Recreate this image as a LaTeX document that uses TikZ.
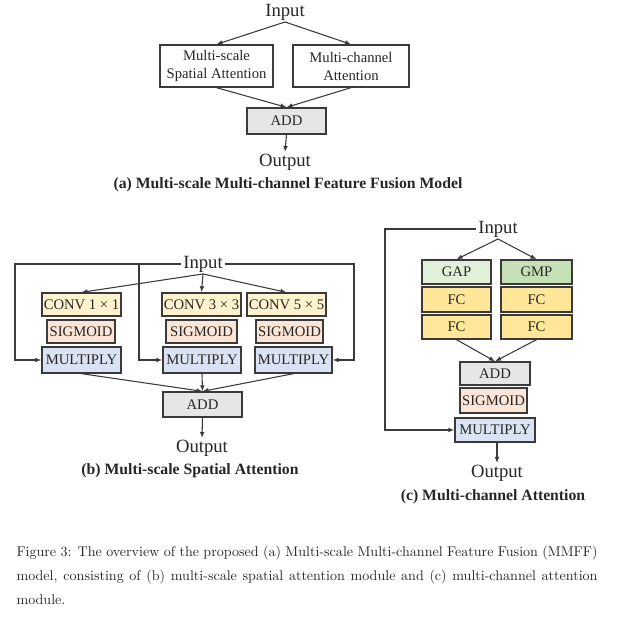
\documentclass[tikz,border=0pt]{standalone}
\usepackage{fontspec}
\newfontfamily\timesfont{Liberation Serif}
\usepackage{tikz}
\usetikzlibrary{arrows.meta,positioning,calc}

\definecolor{linegray}{HTML}{3A3A3A}
\definecolor{textgray}{HTML}{262626}
\definecolor{convfill}{HTML}{FFF2CC}
\definecolor{sigfill}{HTML}{FBE5D6}
\definecolor{mulfill}{HTML}{DAE3F3}
\definecolor{addfill}{HTML}{E7E6E6}
\definecolor{gapfill}{HTML}{E2F0D9}
\definecolor{gmpfill}{HTML}{C5E0B4}
\definecolor{fcfill}{HTML}{FFE699}

\begin{document}
\begin{tikzpicture}[x=0.75pt, y=-0.75pt,
    ->, > = {Latex[length=4.5pt,width=3.5pt]}, color=linegray, line width=0.8pt,
    every node/.style={font=\timesfont\fontsize{11}{13.5}\selectfont, align=center, text=textgray},
    blk/.style={draw=linegray, line width=1pt, inner sep=0pt},
    boxsz/.style 2 args={minimum width={#1*0.75pt}, minimum height={#2*0.75pt}},
    io/.style={font=\timesfont\fontsize{14}{16}\selectfont, inner sep=1pt},
    subcap/.style={font=\timesfont\bfseries\fontsize{11.8}{14}\selectfont, inner sep=0pt}]
    \useasboundingbox (0,0) rectangle (632,617);

    % (a)
    \node[io] (InA) at (285,12) {Input};
    \node[blk, boxsz={113}{42}] (SpatialA) at (216.5,66) {Multi-scale\\Spatial Attention};
    \node[blk, boxsz={116}{42}] (ChannelA) at (351,66) {Multi-channel\\Attention};
    \node[blk, boxsz={79}{26}, fill=addfill] (AddA) at (286.5,121) {ADD};
    \node[io] (OutA) at (285,162) {Output};
    \node[subcap] (capA) at (288,185) {(a) Multi-scale Multi-channel Feature Fusion Model};

    \draw (InA.south) -- (SpatialA.north);
    \draw (InA.south) -- (ChannelA.north);
    \draw (SpatialA.south) -- (AddA.north);
    \draw (ChannelA.south) -- (AddA.north);
    \draw (AddA.south) -- (OutA.north);

    % (b)
    \node[io] (InB) at (203,264) {Input};
    \node[blk, boxsz={79}{23}, fill=convfill] (Conv1) at (81.5,304.5) {CONV 1 × 1};
    \node[blk, boxsz={79}{23}, fill=convfill] (Conv3) at (201.5,304.5) {CONV 3 × 3};
    \node[blk, boxsz={79}{23}, fill=convfill] (Conv5) at (286.5,304.5) {CONV 5 × 5};
    \node[blk, boxsz={68}{23}, fill=sigfill] (Sig1) at (81,331.5) {SIGMOID};
    \node[blk, boxsz={71}{23}, fill=sigfill] (Sig3) at (201.5,331.5) {SIGMOID};
    \node[blk, boxsz={67}{23}, fill=sigfill] (Sig5) at (289.5,331.5) {SIGMOID};
    \node[blk, boxsz={79}{26}, fill=mulfill] (Mul1) at (81.5,360) {MULTIPLY};
    \node[blk, boxsz={78}{26}, fill=mulfill] (Mul3) at (202,360) {MULTIPLY};
    \node[blk, boxsz={77}{26}, fill=mulfill] (Mul5) at (293.5,360) {MULTIPLY};
    \node[blk, boxsz={79}{25}, fill=addfill] (AddB) at (202.5,404.5) {ADD};
    \node[io] (OutB) at (202,448) {Output};
    \node[subcap] (capB) at (190,471) {(b) Multi-scale Spatial Attention};

    \coordinate (leftB) at (15,360);
    \coordinate (midB) at (139,360);
    \coordinate (rightB) at (354,360);

    \draw (InB.south) -- (Conv1.north);
    \draw (InB.south) -- (Conv3.north);
    \draw (InB.south) -- (Conv5.north);
    \draw (InB.west) -| (leftB) -- (Mul1.west);
    \draw (midB |- InB) -- (midB) -- (Mul3.west);
    \draw (InB.east) -| (rightB) -- (Mul5.east);
    \draw (Mul1.south) -- (AddB.north);
    \draw (Mul3.south) -- (AddB.north);
    \draw (Mul5.south) -- (AddB.north);
    \draw (AddB.south) -- (OutB.north);

    % (c)
    \node[io] (InC) at (498,229) {Input};
    \node[blk, boxsz={69}{24}, fill=gapfill] (GAP) at (456.5,272) {GAP};
    \node[blk, boxsz={71}{24}, fill=gmpfill] (GMP) at (536.5,272) {GMP};
    \node[blk, boxsz={69}{25}, fill=fcfill] (FCa) at (456.5,299.5) {FC};
    \node[blk, boxsz={71}{25}, fill=fcfill] (FCb) at (536.5,299.5) {FC};
    \node[blk, boxsz={69}{24}, fill=fcfill] (FCc) at (456.5,327) {FC};
    \node[blk, boxsz={71}{24}, fill=fcfill] (FCd) at (536.5,327) {FC};
    \node[blk, boxsz={70}{23}, fill=addfill] (AddC) at (495,373.5) {ADD};
    \node[blk, boxsz={67}{25}, fill=sigfill] (SigC) at (493.5,400.5) {SIGMOID};
    \node[blk, boxsz={80}{24}, fill=mulfill] (MulC) at (495,430) {MULTIPLY};
    \node[io] (OutC) at (497,473) {Output};
    \node[subcap] (capC) at (493,497) {(c) Multi-channel Attention};

    \coordinate (leftC) at (385,430);

    \draw (InC.south) -- (GAP.north);
    \draw (InC.south) -- (GMP.north);
    \draw (FCc.south) -- (AddC.north);
    \draw (FCd.south) -- (AddC.north);
    \draw (InC.west) -| (leftC) -- (MulC.west);
    \draw (MulC.south -| OutC) -- (OutC.north);

    % caption
    \node[anchor=north west, text width=435.75pt, align=justify, inner sep=0pt,
        font=\fontsize{10.55}{18}\selectfont] (figcap) at (16,545.5)
        {Figure 3: The overview of the proposed (a) Multi-scale Multi-channel Feature Fusion (MMFF)\linebreak
        model, consisting of (b) multi-scale spatial attention module and (c) multi-channel attention\linebreak
        module.};
\end{tikzpicture}
\end{document}
